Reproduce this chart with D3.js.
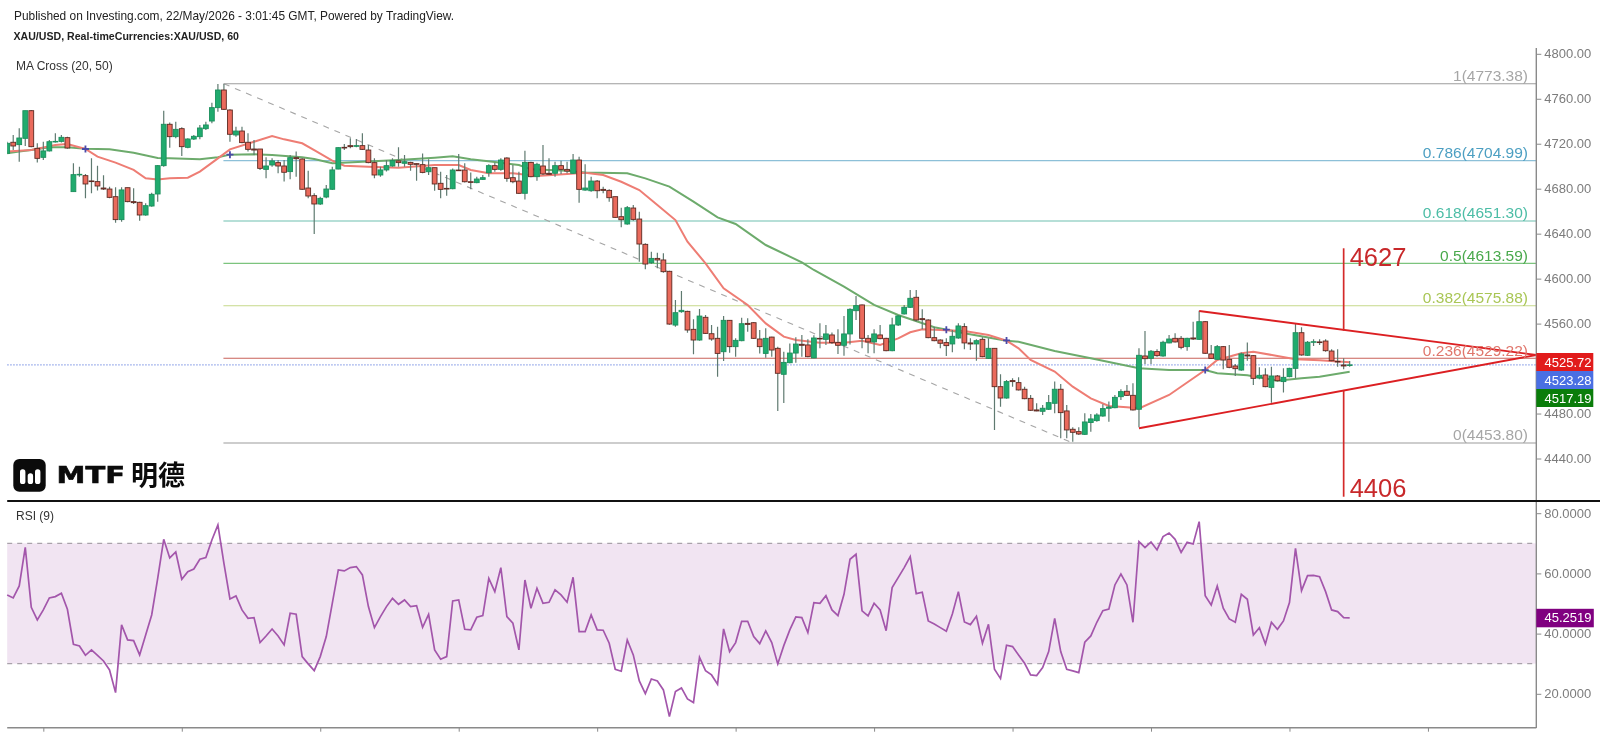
<!DOCTYPE html>
<html>
<head>
<meta charset="utf-8">
<script src="https://cdn.jsdelivr.net/npm/d3@7"></script>
<style>
  html, body { margin: 0; background: #fff; }
  svg { display: block; filter: blur(0.35px); }
  text { font-family: "Liberation Sans", Arial, sans-serif; }
</style>
</head>
<body>
<script>
// hourly candles: open, high, low, close
const candles = [
[4711.5,4721.8,4711.5,4720.4],[4721.3,4727.8,4714.4,4718],[4719.2,4733.7,4704,4725.1],[4724.8,4749.4,4718,4749.4],
[4749.4,4750,4716.8,4717.4],[4715.9,4720.4,4703.2,4707],[4707.9,4721.8,4705.5,4713.6],[4713.6,4723.3,4713,4721.8],
[4721.6,4729.3,4721,4722.1],[4722.1,4727.8,4721,4725.7],[4725.4,4726.3,4715.6,4716.2],[4677.4,4702.6,4677.4,4692.5],
[4692.5,4699.6,4690.7,4692.8],[4691.6,4693,4671.4,4684.2],[4686.9,4707,4675.9,4686.3],[4686.3,4700.5,4678.3,4682.4],
[4680.6,4691.9,4678.9,4679.7],[4679.7,4681.8,4671.4,4672.3],[4672.9,4681.2,4649.8,4652.5],[4652.5,4681.2,4650.7,4678.9],
[4680.9,4680.9,4667.9,4668.5],[4668.5,4680.3,4666.4,4667.6],[4667.9,4668.5,4651.6,4656.6],[4656.6,4667,4656,4664.9],
[4664.6,4676.5,4664,4675],[4675.3,4701.1,4668.5,4700.5],[4700.5,4749.4,4699.6,4737.3],[4737.3,4738.8,4716.5,4726.3],
[4726.3,4739.6,4724.8,4732.8],[4733.4,4734.6,4709.1,4717.4],[4716.8,4724.8,4715.9,4724.2],[4724.2,4727.8,4723.3,4726.6],
[4726.3,4736.7,4723.9,4734],[4733.4,4739.6,4732.2,4736.7],[4740.2,4756.5,4738.2,4752.1],[4752.1,4773.1,4748.5,4767.8],
[4767.8,4773.1,4750,4750.6],[4750,4750.6,4721.8,4728.4],[4727.8,4735.2,4726.3,4731.3],[4731.3,4735.2,4720.4,4721],
[4721.3,4729.3,4713,4715],[4715.3,4723.3,4710,4714.4],[4715.3,4715.3,4696.7,4698.1],[4697.2,4707.9,4689.2,4700.2],
[4701.1,4707,4699.6,4704.7],[4703.2,4705.5,4693.7,4700.2],[4700.2,4705.5,4686.3,4694.6],[4695.2,4710,4688.3,4707.6],
[4707.6,4713,4690.7,4706.7],[4706.4,4707,4678.9,4679.5],[4680.6,4696,4671.4,4673.5],[4673.8,4675.9,4639.7,4666.4],
[4666.4,4672.9,4665.5,4671.4],[4672.6,4683.3,4671.4,4679.7],[4679.5,4699.6,4678.9,4696.7],[4697.5,4716.8,4697.2,4716.5],
[4716.8,4719.8,4714.4,4716.2],[4718.3,4724.8,4715.9,4717.4],[4717.7,4724.2,4716.8,4718.3],[4718.3,4729.3,4714.4,4715],
[4714.4,4718.9,4702.6,4703.2],[4703.2,4707,4689.2,4692.2],[4692.2,4699.6,4690.7,4696.7],[4696.7,4705.5,4695.2,4700.5],
[4700.2,4707,4699.6,4705],[4704.7,4716.8,4699.6,4703.2],[4702.6,4710,4699.6,4704],[4703.4,4704,4696,4701.7],
[4702.3,4702.6,4687.1,4701.7],[4701.4,4711.4,4693.7,4694.5],[4695.1,4706.1,4692.2,4698.7],[4698.7,4698.7,4678.2,4684.2],
[4684.8,4695.1,4671.4,4679.4],[4680.3,4692.2,4673.8,4679.7],[4680,4698,4679.4,4696.6],[4696.6,4710.9,4696,4696],
[4696.6,4702.6,4685.6,4686.2],[4686.2,4694.5,4679.4,4685.6],[4685.4,4690.7,4684.8,4688.6],[4688.3,4692.2,4687.7,4689.8],
[4694.2,4701.7,4690.7,4700.5],[4700.5,4703.1,4695.1,4697.2],[4697.2,4707,4696,4705.5],[4707.3,4707.9,4686.2,4689.2],
[4689.8,4701.1,4684.8,4686.2],[4686.8,4695.1,4675.3,4675.9],[4675.9,4713.8,4670.5,4703.4],[4703.4,4704,4690.1,4690.7],
[4690.7,4703.1,4687.1,4701.7],[4700.2,4718.9,4692.2,4693.1],[4693.7,4707,4692.2,4692.8],[4693.7,4704,4690.7,4700.5],
[4700.5,4704.9,4693.1,4697.2],[4697.2,4704,4693.7,4695.7],[4693.7,4710.9,4693.1,4705.5],[4705.5,4708.5,4667.6,4679.4],
[4678.8,4701.7,4678.2,4680.6],[4678.2,4690.7,4677.3,4686.8],[4686.8,4687.7,4671.4,4678.2],[4679.4,4681.8,4675.9,4678.5],
[4678.5,4679.4,4668.5,4672],[4672.9,4672.9,4653.9,4654.5],[4655.1,4663.1,4645.6,4652.4],[4648.6,4664.6,4648,4663.1],
[4662.8,4665.5,4651.6,4652.7],[4653,4659.6,4615.1,4630.8],[4630.5,4631.4,4608.3,4613],[4614.2,4624,4613,4618],
[4618,4623.1,4609.2,4616.6],[4616.6,4622.5,4605.3,4606.2],[4606.5,4607.1,4559,4559.6],[4558.7,4581,4557.3,4569.7],
[4570.6,4589,4569.7,4571.8],[4570.9,4571.5,4551.9,4554.3],[4554.9,4563.8,4532.7,4545.4],[4545.4,4573,4544.8,4566.7],
[4565.6,4567.6,4550.7,4551.3],[4551,4558.7,4544.8,4546.3],[4546.9,4557.3,4512.8,4533.5],[4535,4566.7,4526.7,4562.9],
[4562.9,4563.2,4534.1,4539.5],[4539.5,4546.9,4530.6,4545.1],[4544.8,4565.3,4544.2,4559.9],[4560.2,4564.7,4552.8,4559.3],
[4560.8,4561.4,4546.3,4546.9],[4546.3,4554.3,4533.5,4539.5],[4533.5,4555.8,4529.7,4546.9],[4548,4548.4,4530.6,4536.5],
[4538,4539.5,4482.3,4515.8],[4514.9,4535,4489.4,4525.5],[4525.2,4542.4,4524.7,4533.8],[4533.8,4547.8,4525.2,4541.8],
[4541.6,4549.9,4530.6,4540.7],[4541,4546,4530,4530.6],[4529.4,4549.6,4529.1,4547.2],[4546.9,4560.3,4538,4546.3],
[4546,4558.8,4541,4550.8],[4549.9,4552,4541.9,4543.1],[4543.1,4554.9,4533,4540.7],[4540.7,4566.8,4531.5,4550.8],
[4550.8,4573.6,4541.3,4572.7],[4571.5,4584.6,4563.2,4576],[4576.6,4576.9,4538,4546.9],[4546.9,4549.9,4533.6,4543.7],
[4543.7,4554.9,4533.6,4550.8],[4549.9,4558.8,4546,4546.6],[4546.9,4547.5,4535.4,4535.9],[4535.9,4565.3,4535.4,4558.8],
[4558.8,4567.7,4557.9,4566.8],[4568.6,4576.6,4568,4574.5],[4574.5,4589.9,4573.9,4582.5],[4583.4,4589.9,4561.7,4563.2],
[4564.4,4572.7,4554.9,4563.5],[4563.2,4563.8,4546.9,4547.5],[4547.5,4557.3,4544.2,4544.8],[4545.4,4546,4538,4542.5],
[4543.1,4546.9,4531.2,4540.4],[4541.9,4554.3,4534.5,4548.7],[4547.2,4560.3,4546.6,4557.9],[4557.3,4560.3,4537.1,4542.8],
[4542.8,4546.9,4536.5,4541.9],[4541.9,4546,4527,4544.8],[4546,4547.8,4530,4530.6],[4529.1,4546.9,4528.5,4538],
[4538,4538,4465.4,4503.9],[4503.9,4514.9,4486.1,4493.8],[4493.8,4509.9,4493.2,4508.4],[4509.3,4511.3,4503.9,4508.4],
[4507.5,4512.2,4500.4,4501],[4501.6,4503.9,4492.7,4493.2],[4493.5,4496.5,4482.3,4482.9],[4483.2,4489.1,4482,4482.3],
[4482,4487.6,4478.7,4484.7],[4483.8,4496.5,4483.2,4489.7],[4489.1,4508.4,4480.2,4501.6],[4501.6,4506.3,4458,4480.8],
[4482.3,4487.6,4458,4465.4],[4466,4467.8,4455,4463.3],[4463.9,4467.8,4460.9,4461.8],[4461.5,4480.2,4460.9,4472.5],
[4472,4479.6,4463.9,4475.2],[4473.7,4480.2,4472.8,4478.7],[4477.8,4488.2,4477.2,4484.4],[4484.7,4490.6,4472.8,4485.8],
[4485.2,4496.5,4484.7,4494.4],[4495,4501.6,4492,4499.5],[4499.8,4505.4,4495.6,4496.2],[4496.2,4506.9,4482.6,4483.2],
[4483.8,4538,4467.8,4531.8],[4531.2,4553.4,4524.1,4528.8],[4529.1,4536.5,4524.1,4535.4],[4535.1,4537.1,4530.6,4531.5],
[4531.2,4544.8,4530.6,4543.4],[4542.8,4549.9,4542.5,4546.3],[4546.9,4551.4,4543.1,4543.7],[4546.9,4549,4537.1,4538.9],
[4539.5,4547.5,4535.9,4546.9],[4547.2,4561.7,4545.4,4546.3],[4546,4571.5,4545.4,4561.7],[4561.7,4562.3,4533,4533.6],
[4533,4541,4528.5,4529.1],[4528.2,4541,4527.6,4539.5],[4539.5,4540.1,4519.3,4527.6],[4528.2,4541,4520.2,4521.1],
[4522.3,4524.1,4513.4,4519.9],[4518.7,4534.2,4518.1,4533],[4532.1,4543.1,4527,4531.2],[4531.5,4532.1,4505.4,4511.3],
[4511.6,4521.1,4510.4,4514],[4514.3,4520.2,4503.3,4503.9],[4503.3,4521.7,4489.7,4513.4],[4513.4,4514.3,4508.4,4509.2],
[4508.4,4520.2,4498.6,4512.2],[4512.8,4520.8,4512.2,4520.2],[4520.2,4559.7,4511.3,4551.9],[4551.9,4556.7,4531.5,4532.1],
[4531.8,4544.5,4531.2,4543.4],[4543.4,4546,4540.1,4543.9],[4543.7,4546,4541,4543.1],[4544.5,4546,4535,4535.9],
[4535.6,4537.1,4526.4,4527],[4526.4,4537.1,4521.7,4525.9],[4523.2,4529.1,4519.3,4522.3],[4522.7,4526.7,4521.7,4523.28]
];

// MA 20 / MA 50, read as [bar, price] at the bends
const maFast = [[0,4713],[4,4714.4],[8,4718.9],[10,4719.8],[13,4715.3],[15,4708.5],[18,4703.2],[21,4696.7],[23,4689.2],[25,4688.1],[27,4689.2],[30,4689.8],[32,4695.2],[35,4707],[37,4715],[41,4721.8],[44,4726.9],[46,4723.9],[49,4720.4],[51,4714.4],[54,4705],[56,4700.5],[60,4699.6],[65,4698.7],[71,4701],[75,4701],[77,4696.6],[80,4693.7],[84,4693.7],[88,4691.3],[93,4693],[96,4694.2],[99,4692.2],[102,4686.2],[105,4678.8],[108,4665.5],[111,4652.1],[113,4632.9],[116,4613.6],[119,4591.4],[123,4576.5],[126,4560.2],[129,4548.4],[131,4545.4],[135,4543],[139,4543],[142,4544.8],[145,4541],[148,4546.9],[150,4552.3],[152,4554.9],[155,4554.3],[159,4553.4],[163,4549.9],[166,4544.8],[168,4538],[170,4527.6],[174,4517.3],[177,4503.9],[180,4493.5],[183,4486.7],[186,4485.5],[188,4484.6],[193,4496.5],[199,4518.7],[201,4527.6],[205,4533.6],[207,4535],[211,4531.2],[214,4528.2],[218,4527.3],[223,4525.72]];
const maSlow = [[0,4711.5],[2,4713],[4,4714.4],[7,4716.8],[10,4716.8],[13,4715.6],[17,4715],[21,4712],[25,4707.3],[27,4707],[32,4706.1],[35,4707.9],[37,4710.3],[41,4710.6],[44,4710],[49,4707.9],[51,4706.4],[54,4702.6],[65,4705.5],[71,4707.6],[74,4708.8],[77,4706.1],[81,4703.7],[85,4701],[87,4697.2],[93,4696],[96,4694.5],[103,4693.7],[106,4689.2],[110,4681.8],[114,4668.5],[118,4654.5],[121,4648.6],[126,4629.9],[132,4614.5],[134,4607.7],[139,4592.9],[144,4576.6],[148,4567.7],[154,4556.7],[159,4551.4],[166,4544.8],[168,4543.9],[174,4535.7],[180,4529.1],[188,4520.2],[193,4518.7],[199,4518.7],[201,4515.8],[206,4514],[211,4509.2],[215,4511.3],[218,4512.8],[223,4517.19]];
const crossBars = [13,37,156,166,199];
const crossPrices = [4715.3,4710.3,4554.6,4545,4518.7];

// fibonacci retracement
const fibRatios = ["1","0.786","0.618","0.5","0.382","0.236","0"];
const fibPrices = [4773.38,4704.99,4651.30,4613.59,4575.88,4529.22,4453.80];
const fibLineColors = ["#9c9c9c","#8dc0d8","#6fbfb0","#7cc47e","#c6d98a","#c9625a","#9c9c9c"];
const fibTextColors = ["#a6a6a6","#4c9fc2","#4cbda6","#49a94c","#a9c655","#e0766c","#a6a6a6"];

// RSI (9), one value per bar
const rsiValues = [
52.84,51.84,55.83,68.67,48.74,44.54,47.86,51.84,52.29,53.39,48.08,36.46,35.9,32.8,34.58,32.8,30.92,27.93,20.4,42.88,
37.9,37.67,32.92,39.56,46.2,58.37,71.33,65.13,67.12,58.04,60.59,61.47,64.69,65.24,71.11,76.09,63.36,51.51,52.51,47.86,
45.09,45.31,37.01,39.22,41.55,39.22,36.24,46.75,46.42,32.36,29.93,27.71,32.36,39,50.07,61.14,60.81,61.92,62.25,59.48,
48.97,41.99,45.64,48.97,51.73,49.74,51.18,48.97,49.3,42.1,46.42,34.58,31.47,32.36,50.85,51.18,41.44,41.22,45.42,45.98,
58.37,53.95,61.92,45.64,43.43,34.58,57.82,48.41,55.06,50.07,50.41,54.5,52.84,50.41,58.71,40.66,40.66,46.2,41.22,41.11,
36.79,28.15,27.49,37.9,32.92,24.28,20.07,24.94,24.28,21.29,12.43,20.74,21.95,18.3,17.08,32.14,27.71,26.27,23.17,41.55,
34.02,37.01,44.09,44.09,39,36.68,40.88,37.01,29.93,36.01,41.22,45.53,45.31,40.33,50.29,50.07,52.62,47.86,45.98,53.06,
64.69,66.35,47.53,45.87,50.07,47.86,40.98,55.3,58.6,61.92,65.57,53.28,53.73,44.21,43.21,41.99,40.77,46.53,53.95,43.87,
42.99,45.75,36.79,43.1,28.15,25.05,36.12,35.68,32.92,30.15,26.27,26.05,28.71,34.02,45.09,34.02,28.15,27.6,27.05,37.12,
39.22,43.76,47.64,48.19,56.16,59.81,56.16,43.76,70.55,68.56,70.44,67.8,72.21,73.43,71.33,67,70.33,69.78,77.2,52.62,
49.52,55.83,48.41,44.87,43.76,53.06,51.4,39.56,41.99,36.57,43.76,41.44,44.21,50.29,68.34,54.28,59.26,59.37,58.93,53.95,
47.86,47.31,45.31,45.25
];

// 4520 sits under the value badges, the reference doesn't show it
const priceTicks = [4440,4480,4560,4600,4640,4680,4720,4760,4800];
const rsiTicks = [20,40,60,80];
const timeTicks = d3.range(6, 254, 23);

// hand drawn levels: [bar, price]
const trendDrawn = [[36,4773.38],[177,4453.8]];
const triangleUpper = [[198,4571.2],[254,4532.1]];
const triangleLower = [[188,4466.9],[254,4532.1]];
const targetUp = [[222,4627],[222,4553.7]];
const targetDown = [[222,4501],[222,4406]];

const badgeValues = [4525.72,4523.28,4517.19];
const badgeColors = ["#e11b1b","#4a6fe3","#0a7d0a"];

const width = 1600, height = 734;
const plotLeft = 7.2, plotRight = 1536.3;
const axisFont = 13;

const svg = d3.select("body").append("svg").attr("width", width).attr("height", height);

const x = d3.scaleLinear().domain([0, 254]).range([plotLeft, plotRight]);
const y = d3.scaleLinear().domain([4800, 4440]).range([53.8, 458.5]);
const yRsi = d3.scaleLinear().domain([70, 30]).range([543.3, 663.7]);

const priceLine = d3.line().x(d => x(d[0])).y(d => y(d[1]));

svg.append("clipPath").attr("id", "plotClip").append("rect")
    .attr("x", plotLeft).attr("y", 40).attr("width", plotRight - plotLeft).attr("height", 690);

// RSI band goes first, everything else sits on white
svg.append("rect")
    .attr("x", plotLeft).attr("y", yRsi(70))
    .attr("width", plotRight - plotLeft).attr("height", yRsi(30) - yRsi(70))
    .attr("fill", "#f1e4f2");

// fib lines
svg.append("g").selectAll("line").data(fibPrices).enter().append("line")
    .attr("x1", x(36) - 0.5).attr("x2", plotRight)
    .attr("y1", d => y(d)).attr("y2", d => y(d))
    .attr("stroke", (d, i) => fibLineColors[i])
    .attr("stroke-width", 1.1);

svg.append("path")
    .attr("d", priceLine(trendDrawn))
    .attr("fill", "none").attr("stroke", "#a5a5a5").attr("stroke-width", 1.1)
    .attr("stroke-dasharray", "6 6");

svg.append("line")
    .attr("x1", plotLeft).attr("x2", plotRight)
    .attr("y1", y(4523.28)).attr("y2", y(4523.28))
    .attr("stroke", "#8fa3e8").attr("stroke-width", 1.2).attr("stroke-dasharray", "1.5 1.5");

// moving averages
svg.append("path").attr("d", priceLine(maSlow))
    .attr("fill", "none").attr("stroke", "#6dab6c").attr("stroke-width", 2);
svg.append("path").attr("d", priceLine(maFast))
    .attr("fill", "none").attr("stroke", "#ee7d74").attr("stroke-width", 2);

// candles
const candle = svg.append("g").attr("clip-path", "url(#plotClip)").selectAll("g").data(candles).enter().append("g");
candle.append("line")
    .attr("x1", (d, i) => x(i)).attr("x2", (d, i) => x(i))
    .attr("y1", d => y(d[1])).attr("y2", d => y(d[2]))
    .attr("stroke", "#5f7a70").attr("stroke-width", 1.2);
candle.append("rect")
    .attr("x", (d, i) => x(i) - 2.4)
    .attr("width", 4.8)
    .attr("y", d => y(Math.max(d[0], d[3])))
    .attr("height", d => Math.max(0.6, Math.abs(y(d[0]) - y(d[3]))))
    .attr("fill", d => d[3] >= d[0] ? "#20ab6e" : "#ea6a5c")
    .attr("stroke", d => d[3] >= d[0] ? "#1b8f5c" : "#5e2a22")
    .attr("stroke-width", 0.9);

// MA crosses
svg.append("g").selectAll("path").data(crossBars).enter().append("path")
    .attr("d", (d, i) => `M${x(d) - 3.5},${y(crossPrices[i])}h7M${x(d)},${y(crossPrices[i]) - 3.5}v7`)
    .attr("stroke", "#4a4aa8").attr("stroke-width", 1.8);

// red triangle and targets
[triangleUpper, triangleLower].forEach(seg => {
    svg.append("path").attr("d", priceLine(seg))
        .attr("fill", "none").attr("stroke", "#dc1f22").attr("stroke-width", 1.9);
});
[targetUp, targetDown].forEach(seg => {
    svg.append("path").attr("d", priceLine(seg))
        .attr("fill", "none").attr("stroke", "#d42a2a").attr("stroke-width", 1.7);
});
svg.append("text").attr("x", x(222) + 6).attr("y", y(4627) + 18)
    .attr("font-size", 25.5).attr("fill", "#c8282a").text("4627");
svg.append("text").attr("x", x(222) + 6).attr("y", y(4406) + 0)
    .attr("font-size", 25.5).attr("fill", "#c8282a").text("4406");

// fib labels
svg.append("g").selectAll("text").data(fibPrices).enter().append("text")
    .attr("x", 1528).attr("y", d => y(d) - 2.5)
    .attr("text-anchor", "end").attr("font-size", 15.5)
    .attr("fill", (d, i) => fibTextColors[i])
    .text((d, i) => `${fibRatios[i]}(${d.toFixed(2)})`);

// RSI
[70, 30].forEach(v => {
    svg.append("line")
        .attr("x1", plotLeft).attr("x2", plotRight)
        .attr("y1", yRsi(v)).attr("y2", yRsi(v))
        .attr("stroke", "#a9a2aa").attr("stroke-width", 1.2).attr("stroke-dasharray", "5 5");
});
svg.append("path")
    .attr("d", d3.line().x((d, i) => x(i)).y(d => yRsi(d))(rsiValues))
    .attr("fill", "none").attr("stroke", "#a356ab").attr("stroke-width", 1.7);

// axes
const priceAxis = d3.axisRight(y).tickValues(priceTicks).tickSize(5).tickPadding(3).tickFormat(d => d.toFixed(2));
const rsiAxis = d3.axisRight(yRsi).tickValues(rsiTicks).tickSize(5).tickPadding(3).tickFormat(d => d.toFixed(4));
const timeAxis = d3.axisBottom(x).tickValues(timeTicks).tickSize(4).tickFormat("");

[svg.append("g").attr("transform", `translate(${plotRight},0)`).call(priceAxis),
 svg.append("g").attr("transform", `translate(${plotRight},0)`).call(rsiAxis),
 svg.append("g").attr("transform", "translate(0,727.7)").call(timeAxis)].forEach(g => {
    g.select(".domain").remove();
    g.selectAll("line").attr("stroke", "#8a8a8a");
    g.selectAll("text").attr("fill", "#7c7c7c").attr("font-size", axisFont)
        .style("font-family", '"Liberation Sans", Arial, sans-serif');
});

svg.append("line").attr("x1", plotRight).attr("x2", plotRight).attr("y1", 48).attr("y2", 728)
    .attr("stroke", "#8a8a8a").attr("stroke-width", 1.4);
svg.append("line").attr("x1", plotLeft).attr("x2", plotRight).attr("y1", 727.7).attr("y2", 727.7)
    .attr("stroke", "#8a8a8a").attr("stroke-width", 1.4);
svg.append("line").attr("x1", plotLeft).attr("x2", width).attr("y1", 501).attr("y2", 501)
    .attr("stroke", "#111").attr("stroke-width", 2);

// value badges, stacked so they don't collide
badgeValues.forEach((v, i) => {
    const top = 353 + i * 18;
    svg.append("rect").attr("x", plotRight).attr("y", top).attr("width", 57).attr("height", 18)
        .attr("fill", badgeColors[i]);
    svg.append("text").attr("x", 1544.5).attr("y", top + 13.6)
        .attr("font-size", axisFont).attr("fill", "#fff").text(v.toFixed(2));
});
svg.append("rect").attr("x", plotRight).attr("y", yRsi(45.25) - 9).attr("width", 57.5).attr("height", 18.5)
    .attr("fill", "#800080");
svg.append("text").attr("x", 1544.5).attr("y", yRsi(45.25) + 4.6)
    .attr("font-size", axisFont).attr("fill", "#fff").text("45.2519");

// headings
svg.append("text").attr("x", 14).attr("y", 19.5).attr("font-size", 11.9).attr("fill", "#222")
    .text("Published on Investing.com, 22/May/2026 - 3:01:45 GMT, Powered by TradingView.");
svg.append("text").attr("x", 13.5).attr("y", 39.5).attr("font-size", 10.6).attr("font-weight", "bold").attr("fill", "#222")
    .text("XAU/USD, Real-timeCurrencies:XAU/USD, 60");
svg.append("text").attr("x", 16).attr("y", 69.5).attr("font-size", 12).attr("fill", "#333").text("MA Cross (20, 50)");
svg.append("text").attr("x", 16).attr("y", 519.5).attr("font-size", 12).attr("fill", "#333").text("RSI (9)");

// MTF logo
const logo = svg.append("g");
logo.append("rect").attr("x", 13.3).attr("y", 459).attr("width", 32.4).attr("height", 32.7).attr("rx", 6).attr("fill", "#0b0b0b");
[[20, 469.3, 14.7], [27.7, 473.3, 10.7], [35, 469.3, 14.7]].forEach(b => {
    logo.append("rect").attr("x", b[0]).attr("y", b[1]).attr("width", 5.4).attr("height", b[2]).attr("rx", 2.6).attr("fill", "#fff");
});
logo.append("text").attr("x", 56.5).attr("y", 483.3)
    .attr("textLength", 68.5).attr("lengthAdjust", "spacingAndGlyphs")
    .style("font-family", '"DejaVu Sans"').attr("font-weight", "bold").attr("font-size", 22.8)
    .attr("fill", "#0b0b0b").attr("stroke", "#0b0b0b").attr("stroke-width", 0.6).text("MTF");
logo.append("text").attr("x", 131).attr("y", 485)
    .style("font-family", '"Noto Sans CJK TC"').attr("font-weight", "bold").attr("font-size", 27).attr("fill", "#0b0b0b").text("明德");
</script>
</body>
</html>
